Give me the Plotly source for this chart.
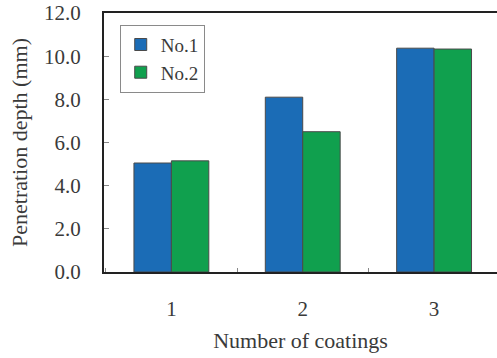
import plotly.graph_objects as go

coatings = ["1", "2", "3"]
no1_depth = [5.05, 8.10, 10.37]
no2_depth = [5.15, 6.50, 10.33]
y_ticks = [0, 2, 4, 6, 8, 10, 12]

serif = "Liberation Serif"
text_col = "#3a3a3a"

fig = go.Figure()
fig.add_trace(go.Bar(
    x=coatings, y=no1_depth, name="No.1",
    marker=dict(color="#1b6cb6", line=dict(color="#4a4a4a", width=1)),
))
fig.add_trace(go.Bar(
    x=coatings, y=no2_depth, name="No.2",
    marker=dict(color="#10a04e", line=dict(color="#4a4a4a", width=1)),
))

fig.update_layout(
    width=497, height=358,
    margin=dict(l=104, r=0, t=13, b=86),
    paper_bgcolor="white", plot_bgcolor="white",
    barmode="group", bargap=0.43, bargroupgap=0,
    font=dict(family=serif, size=21, color=text_col),
    showlegend=True,
    legend=dict(
        x=0.04, y=0.955, xanchor="left", yanchor="top",
        bgcolor="white", bordercolor="#8a8a8a", borderwidth=1,
        font=dict(family=serif, size=19, color=text_col),
        itemwidth=30, tracegroupgap=2,
    ),
)

fig.update_xaxes(
    type="category", range=[-0.513, 2.479],
    showline=True, linecolor="#222222", linewidth=2, mirror=True,
    ticks="inside", tickson="boundaries", ticklen=4, tickcolor="#888888",
    ticklabelstandoff=17,
    tickfont=dict(family=serif, size=21, color=text_col),
    showgrid=False, zeroline=False,
    title=dict(text="Number of coatings", font=dict(family=serif, size=22, color=text_col), standoff=12),
)
fig.update_yaxes(
    range=[0, 12], tickvals=y_ticks, tickformat=".1f",
    showline=True, linecolor="#222222", linewidth=2,
    ticks="inside", ticklen=5, tickcolor="#888888",
    ticklabelstandoff=17,
    tickfont=dict(family=serif, size=21, color=text_col),
    showgrid=False, zeroline=False,
    title=dict(text="Penetration depth (mm)", font=dict(family=serif, size=22, color=text_col), standoff=10),
)

fig.write_html("out.html")
